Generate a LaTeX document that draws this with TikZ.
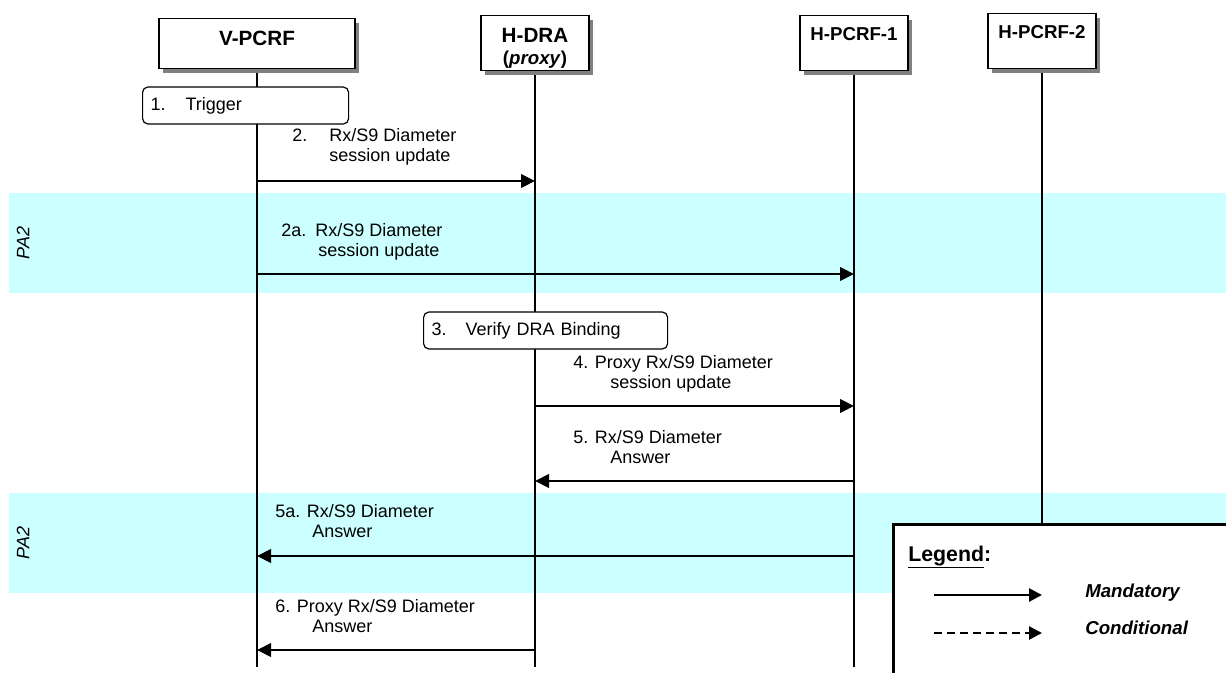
\documentclass[tikz,border=0pt]{standalone}
\usepackage{fontspec}
\setmainfont{Liberation Sans}
\usetikzlibrary{arrows.meta,positioning,shadows,backgrounds}
\definecolor{pabg}{HTML}{CCFFFF}
\newcommand{\msgtext}[2]{\begin{tabular}[t]{@{}l@{}}#1\\\hspace*{27.75pt}#2\end{tabular}}
\tikzset{
  entity/.style={rectangle, draw=black, line width=1pt, fill=white, inner sep=0pt, anchor=north,
                 drop shadow={shadow xshift=3pt, shadow yshift=-3pt, fill=black!50, opacity=1}},
  ename/.style={inner sep=0pt, align=center, font=\bfseries\fontsize{15.5}{16.5}\selectfont},
  life/.style={line width=1.1pt, draw=black},
  action/.style={rectangle, rounded corners=4pt, draw=black, line width=0.9pt, fill=white,
                 anchor=west, minimum height=27.75pt, inner xsep=6pt, align=left,
                 font=\fontsize{13.5}{15}\selectfont},
  msg/.style={-{Triangle[length=10.5pt,width=10pt]}, line width=2.2pt},
  lbl/.style={anchor=base west, inner sep=0pt, font=\fontsize{13.5}{15}\selectfont},
  band/.style={fill=pabg, draw=none},
  pa/.style={rotate=90, inner sep=0pt, font=\itshape\fontsize{13.5}{15}\selectfont},
  legendbox/.style={rectangle, draw=black, line width=2pt, fill=white, anchor=north west},
  legarr/.style={-{Triangle[length=9.75pt,width=9.75pt]}, line width=2pt},
  lgtext/.style={anchor=base west, inner sep=0pt, font=\bfseries\itshape\fontsize{14}{16}\selectfont},
}

\begin{document}
\begin{tikzpicture}[x=0.75pt, y=-0.75pt]
\useasboundingbox (0,0) rectangle (1226,673);
\clip (0,0) rectangle (1226,673);

% entities
\node[entity, minimum width=147pt, minimum height=37.5pt] (vpcrf) at (257,18) {};
\node[entity, minimum width=81pt, minimum height=41.25pt] (hdra) at (535,15) {};
\node[entity, minimum width=81pt, minimum height=41.25pt] (hpcrf1) at (854,15) {};
\node[entity, minimum width=81pt, minimum height=41.25pt] (hpcrf2) at (1042,13) {};
\node[ename, below=9.5pt of vpcrf.north] (tvpcrf) {V-PCRF};
\node[ename, below=9.5pt of hdra.north] (thdra) {H-DRA\\\fontsize{14}{16.5}\selectfont(\textit{proxy})};
\node[ename, font=\bfseries\fontsize{14}{16}\selectfont, below=9pt of hpcrf1.north] (thpcrf1) {H-PCRF-1};
\node[ename, font=\bfseries\fontsize{14}{16}\selectfont, below=9pt of hpcrf2.north] (thpcrf2) {H-PCRF-2};

\begin{scope}[on background layer]
\fill[white] (0,0) rectangle (1226,673);
% PA2 bands
\fill[band] (9,193) rectangle (1226,293);
\fill[band] (9,493) rectangle (1226,593);
\node[pa] (pa1) at (23,243) {PA2};
\node[pa] (pa2) at (23,543) {PA2};
% lifelines
\coordinate (bot) at (0,667);
\foreach \e in {vpcrf,hdra,hpcrf1,hpcrf2}
  \draw[life] (\e.south) -- (\e.south |- bot);
\end{scope}

% steps
\node[action, text width=142.5pt] (trig) at (142,105.5) {\makebox[26.25pt][l]{1.}Trigger};
\node[action, text width=171pt] (verify) at (423,330.5) {\makebox[25.5pt][l]{3.}Verify DRA Binding};

% messages
\coordinate (r2) at (0,181);
\coordinate (r2a) at (0,274);
\coordinate (r4) at (0,406);
\coordinate (r5) at (0,481);
\coordinate (r5a) at (0,556);
\coordinate (r6) at (0,650);
\draw[msg] (vpcrf |- r2) -- (hdra |- r2);
\draw[msg] (vpcrf |- r2a) -- (hpcrf1 |- r2a);
\draw[msg] (hdra |- r4) -- (hpcrf1 |- r4);
\draw[msg] (hpcrf1 |- r5) -- (hdra |- r5);
\draw[msg] (hpcrf1 |- r5a) -- (vpcrf |- r5a);
\draw[msg] (hdra |- r6) -- (vpcrf |- r6);

\node[lbl] (l2) at (292,142) {\msgtext{\makebox[27.75pt][l]{2.}Rx/S9 Diameter}{session update}};
\node[lbl] (l2a) at (281,237) {\msgtext{\makebox[25.5pt][l]{2a.}Rx/S9 Diameter}{session update}};
\node[lbl] (l4) at (573,368) {\msgtext{4. Proxy Rx/S9 Diameter}{session update}};
\node[lbl] (l5) at (573,443) {\msgtext{5. Rx/S9 Diameter}{Answer}};
\node[lbl] (l5a) at (275,517) {\msgtext{5a. Rx/S9 Diameter}{Answer}};
\node[lbl] (l6) at (275,612) {\msgtext{6. Proxy Rx/S9 Diameter}{Answer}};

% legend
\node[legendbox, minimum width=270pt, minimum height=130pt] (legend) at (892,523) {};
\node[anchor=base west, inner sep=0pt, font=\bfseries\fontsize{16}{18}\selectfont] (lgtitle) at (908,561) {\underline{Legend}:};
\coordinate (mand1) at (934,595);
\coordinate (mand2) at (1042,595);
\coordinate (cond1) at (934,633);
\coordinate (cond2) at (1042,633);
\draw[legarr] (mand1) -- (mand2);
\draw[legarr, dash pattern=on 6pt off 3.75pt] (cond1) -- (cond2);
\node[lgtext] (lmand) at (1085,597) {Mandatory};
\node[lgtext] (lcond) at (1085,634) {Conditional};
\end{tikzpicture}
\end{document}
